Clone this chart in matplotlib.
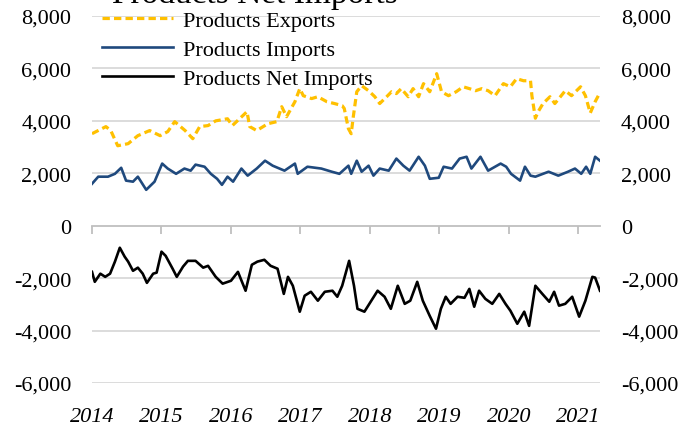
import matplotlib
matplotlib.use("Agg")
import matplotlib.pyplot as plt
from matplotlib.ticker import FuncFormatter

# weekly series, sampled at the turning points (decimal years, thousand b/d)
export_t = [2014.00, 2014.20, 2014.27, 2014.37, 2014.52, 2014.66, 2014.83, 2014.98,
            2015.09, 2015.19, 2015.34, 2015.45, 2015.55, 2015.67, 2015.78, 2015.95,
            2016.02, 2016.23, 2016.27, 2016.37, 2016.53, 2016.66, 2016.73, 2016.80,
            2016.92, 2016.99, 2017.04, 2017.16, 2017.25, 2017.38, 2017.49, 2017.60,
            2017.63, 2017.69, 2017.73, 2017.76, 2017.81, 2017.88, 2017.98, 2018.07,
            2018.14, 2018.24, 2018.31, 2018.38, 2018.45, 2018.55, 2018.62, 2018.70,
            2018.77, 2018.86, 2018.96, 2019.03, 2019.13, 2019.24, 2019.34, 2019.43,
            2019.52, 2019.61, 2019.70, 2019.80, 2019.92, 2020.02, 2020.11, 2020.21,
            2020.31, 2020.33, 2020.38, 2020.42, 2020.49, 2020.59, 2020.66, 2020.74,
            2020.81, 2020.90, 2021.03, 2021.10, 2021.17, 2021.24, 2021.31]
export_v = [3510, 3780, 3630, 3050, 3130, 3435, 3630, 3435,
            3590, 3970, 3630, 3320, 3780, 3820, 4000, 4080,
            3820, 4350, 3780, 3630, 3890, 3970, 4540, 4160,
            4730, 5230, 4960, 4850, 4920, 4730, 4660, 4580,
            4470, 3700, 3510, 4160, 5110, 5340, 5150, 4920,
            4660, 4920, 5110, 5040, 5230, 4920, 5230, 4920,
            5420, 5110, 5800, 5110, 4960, 5110, 5300, 5230,
            5150, 5230, 5150, 4960, 5420, 5300, 5610, 5530,
            5530, 4960, 4100, 4350, 4660, 4920, 4660, 4920,
            5150, 4960, 5300, 4960, 4300, 4730, 5080]

import_t = [2014.00, 2014.09, 2014.23, 2014.33, 2014.42, 2014.49, 2014.59, 2014.66,
            2014.78, 2014.90, 2015.01, 2015.09, 2015.21, 2015.33, 2015.42, 2015.49,
            2015.62, 2015.71, 2015.80, 2015.87, 2015.95, 2016.03, 2016.15, 2016.24,
            2016.37, 2016.49, 2016.60, 2016.77, 2016.92, 2016.96, 2017.10, 2017.30,
            2017.45, 2017.56, 2017.69, 2017.73, 2017.81, 2017.88, 2017.98, 2018.05,
            2018.14, 2018.27, 2018.38, 2018.48, 2018.57, 2018.70, 2018.79, 2018.86,
            2018.99, 2019.06, 2019.18, 2019.29, 2019.39, 2019.46, 2019.59, 2019.70,
            2019.88, 2019.96, 2020.03, 2020.16, 2020.23, 2020.31, 2020.38, 2020.57,
            2020.71, 2020.85, 2020.95, 2021.04, 2021.11, 2021.17, 2021.24, 2021.31]
import_v = [1600, 1870, 1870, 1980, 2210, 1720, 1680, 1870,
            1370, 1680, 2370, 2180, 1980, 2180, 2100, 2330,
            2250, 1980, 1790, 1560, 1870, 1680, 2180, 1910,
            2180, 2480, 2290, 2100, 2370, 1980, 2250, 2180,
            2060, 1980, 2290, 1980, 2480, 2060, 2290, 1910,
            2180, 2100, 2560, 2290, 2100, 2630, 2290, 1790,
            1830, 2250, 2180, 2560, 2630, 2180, 2630, 2100,
            2370, 2250, 1980, 1720, 2250, 1910, 1870, 2060,
            1910, 2060, 2180, 1980, 2250, 1980, 2630, 2480]

net_t = [2014.00, 2014.04, 2014.12, 2014.19, 2014.26, 2014.33, 2014.40, 2014.47,
         2014.52, 2014.59, 2014.66, 2014.73, 2014.79, 2014.88, 2014.93, 2015.00,
         2015.06, 2015.16, 2015.22, 2015.31, 2015.38, 2015.49, 2015.60, 2015.67,
         2015.78, 2015.88, 2016.00, 2016.10, 2016.21, 2016.30, 2016.38, 2016.48,
         2016.57, 2016.67, 2016.76, 2016.82, 2016.89, 2016.99, 2017.06, 2017.15,
         2017.25, 2017.35, 2017.46, 2017.53, 2017.60, 2017.70, 2017.77, 2017.82,
         2017.92, 2018.01, 2018.11, 2018.21, 2018.30, 2018.40, 2018.50, 2018.58,
         2018.68, 2018.76, 2018.86, 2018.95, 2019.02, 2019.09, 2019.16, 2019.26,
         2019.36, 2019.43, 2019.50, 2019.57, 2019.66, 2019.76, 2019.86, 2019.95,
         2020.02, 2020.12, 2020.22, 2020.29, 2020.38, 2020.48, 2020.58, 2020.65,
         2020.72, 2020.81, 2020.91, 2021.01, 2021.10, 2021.20, 2021.24, 2021.31]
net_v = [-1760, -2140, -1830, -1950, -1830, -1370, -840, -1180,
         -1370, -1720, -1600, -1830, -2180, -1830, -1790, -990,
         -1150, -1640, -1950, -1560, -1340, -1340, -1600, -1530,
         -1950, -2210, -2100, -1760, -2480, -1490, -1370, -1300,
         -1530, -1640, -2600, -1950, -2290, -3280, -2670, -2520,
         -2860, -2520, -2480, -2710, -2290, -1340, -2290, -3170,
         -3280, -2900, -2480, -2710, -3170, -2290, -2980, -2860,
         -2140, -2860, -3440, -3930, -3170, -2710, -2980, -2710,
         -2750, -2410, -3090, -2480, -2790, -2980, -2600, -2980,
         -3240, -3740, -3280, -3820, -2290, -2600, -2900, -2520,
         -3050, -2980, -2710, -3470, -2860, -1950, -1980, -2480]

years = [2014, 2015, 2016, 2017, 2018, 2019, 2020, 2021]
y_ticks = [-6000, -4000, -2000, 0, 2000, 4000, 6000, 8000]

plt.rcParams["font.family"] = ["Liberation Serif", "DejaVu Serif"]

fig = plt.figure(figsize=(6.86, 4.27), dpi=100)
ax = fig.add_axes([92 / 686, 1 - 384 / 427, 508 / 686, 367 / 427])

grid_col = "#d9d9d9"
for v in y_ticks:
    if v != 0:
        ax.axhline(v, color=grid_col, lw=1.3, zorder=0)

ax.plot(export_t, export_v, color="#FFC000", lw=2.3, dashes=(2.3, 1.3),
        label="Products Exports", zorder=3)
ax.plot(import_t, import_v, color="#1F497D", lw=1.9, label="Products Imports", zorder=3)
ax.plot(net_t, net_v, color="black", lw=1.9, label="Products Net Imports", zorder=3)

ax.set_xlim(2014, 2021.31)
ax.set_ylim(-6000, 8000)
ax.set_yticks(y_ticks)
fmt = FuncFormatter(lambda v, p: f"{v:,.0f}")
ax.yaxis.set_major_formatter(fmt)
ax.tick_params(axis="y", length=0, pad=15, labelsize=16)

ax.set_xticks(years)
ax.set_xticklabels([str(y) for y in years], fontstyle="italic")
ax.tick_params(axis="x", length=0, pad=17, labelsize=16)

for s in ax.spines.values():
    s.set_visible(False)

# zero line with year tick marks hanging below it
zero_pos = (0 - ax.get_ylim()[0]) / (ax.get_ylim()[1] - ax.get_ylim()[0])
zax = ax.secondary_xaxis(zero_pos)
zax.set_xticks(years)
zax.tick_params(axis="x", direction="out", length=6, width=1.3, color="#bfbfbf",
                labelbottom=False)
zax.spines["bottom"].set_color("#bfbfbf")
zax.spines["bottom"].set_linewidth(1.3)

ax2 = ax.twinx()
ax2.set_ylim(ax.get_ylim())
ax2.set_yticks(y_ticks)
ax2.yaxis.set_major_formatter(fmt)
ax2.tick_params(axis="y", length=0, pad=15, labelsize=16)
for s in ax2.spines.values():
    s.set_visible(False)

fig.text(255 / 686, 1 - 3 / 427, "Products Net Imports", ha="center",
         va="baseline", fontsize=24)

leg = ax.legend(loc="upper left", bbox_to_anchor=(102 / 686, 1 - 11 / 427),
                bbox_transform=fig.transFigure, frameon=False, fontsize=16,
                handlelength=3.2, handletextpad=0.45, labelspacing=0.38,
                borderpad=0, borderaxespad=0)

fig.savefig("out.png", dpi=100)
